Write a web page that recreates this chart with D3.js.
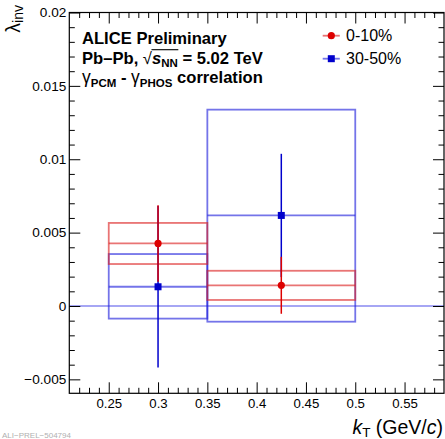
<!DOCTYPE html>
<html><head><meta charset="utf-8">
<script src="https://cdn.jsdelivr.net/npm/d3@7"></script>
<style>body{margin:0;background:#fff} svg{display:block} text{font-family:"Liberation Sans",Arial,Helvetica,sans-serif}</style>
</head><body><svg id="c" width="445" height="439"></svg>
<script>
// ---- data ----
const centralities = ["0-10%", "30-50%"];
const kT = [0.3, 0.425];
const binLow = [0.25, 0.35];
const binHigh = [0.35, 0.5];
const lambda010 = [0.00426, 0.00141];
const stat010 = [0.0026, 0.00194];
const sysLow010 = [0.00286, 0.00041];
const sysHigh010 = [0.00566, 0.0024];
const lambda3050 = [0.00131, 0.00617];
const stat3050 = [0.0055, 0.0042];
const sysLow3050 = [-0.00086, -0.00107];
const sysHigh3050 = [0.00354, 0.01338];
const xTicks = [0.25, 0.3, 0.35, 0.4, 0.45, 0.5, 0.55];
const xTickLabels = ["0.25", "0.3", "0.35", "0.4", "0.45", "0.5", "0.55"];
const yTicks = [-0.005, 0, 0.005, 0.01, 0.015, 0.02];
const yTickLabels = ["\u22120.005", "0", "0.005", "0.01", "0.015", "0.02"];

// ---- layout ----
const L = 69.3, R = 444, T = 12.5, B = 393.3;
const x = d3.scaleLinear().domain([0.21, 0.59]).range([L, R]);
const y = d3.scaleLinear().domain([-0.00595, 0.02]).range([B, T]);
const svg = d3.select("#c");

const RED = "#dd0000", BLUE = "#0000cc";
const REDBOX = "rgba(220,30,30,0.62)", BLUEBOX = "rgba(30,30,220,0.62)";

// zero line
svg.append("line").attr("x1", x(0.21)).attr("x2", x(0.59)).attr("y1", y(0)).attr("y2", y(0))
  .attr("stroke", "rgba(40,40,230,0.55)").attr("stroke-width", 1.6);

const series = [
  {name: centralities[1], v: lambda3050, s: stat3050, lo: sysLow3050, hi: sysHigh3050, c: BLUE, box: BLUEBOX, sym: "square"},
  {name: centralities[0], v: lambda010, s: stat010, lo: sysLow010, hi: sysHigh010, c: RED, box: REDBOX, sym: "circle"}
];

// systematic boxes
series.forEach(S => {
  kT.forEach((k, i) => {
    svg.append("rect").attr("x", x(binLow[i])).attr("width", x(binHigh[i]) - x(binLow[i]))
      .attr("y", y(S.hi[i])).attr("height", y(S.lo[i]) - y(S.hi[i]))
      .attr("fill", "none").attr("stroke", S.box).attr("stroke-width", 1.8);
    svg.append("line").attr("x1", x(binLow[i])).attr("x2", x(binHigh[i]))
      .attr("y1", y(S.v[i])).attr("y2", y(S.v[i]))
      .attr("stroke", S.box).attr("stroke-width", 1.8);
  });
});
// stat errors
series.forEach(S => {
  kT.forEach((k, i) => {
    svg.append("line").attr("x1", x(k)).attr("x2", x(k))
      .attr("y1", y(S.v[i] - S.s[i])).attr("y2", y(S.v[i] + S.s[i]))
      .attr("stroke", S.c).attr("stroke-width", 1.5);
  });
});
// markers
function marker(g, sym, cx, cy, c) {
  if (sym === "circle") g.append("circle").attr("cx", cx).attr("cy", cy).attr("r", 3.6).attr("fill", c);
  else g.append("rect").attr("x", cx - 3.5).attr("y", cy - 3.5).attr("width", 7).attr("height", 7).attr("fill", c);
}
series.forEach(S => kT.forEach((k, i) => marker(svg, S.sym, x(k), y(S.v[i]), S.c)));

// ---- axes ----
const fmtX = d => xTickLabels[xTicks.indexOf(d)];
const fmtY = d => yTickLabels[yTicks.indexOf(d)];
const xMinor = d3.range(22, 59).map(v => v / 100).filter(v => Math.abs(v * 20 - Math.round(v * 20)) > 1e-6);
const yMinor = d3.range(-5, 21).map(v => v / 1000).filter(v => Math.abs(v * 200 - Math.round(v * 200)) > 1e-6);

function styleAxis(g) { g.select(".domain").remove(); g.selectAll("line").attr("stroke", "#000"); }

svg.append("g").attr("transform", `translate(0,${B})`)
  .call(d3.axisBottom(x).tickValues(xTicks).tickFormat(fmtX).tickSize(-11).tickPadding(5.5))
  .call(styleAxis).selectAll("text").attr("font-size", 13.2).attr("fill", "#000")
  .style("font-family", '"Liberation Sans",Arial,sans-serif');
svg.append("g").attr("transform", `translate(0,${B})`)
  .call(d3.axisBottom(x).tickValues(xMinor).tickFormat("").tickSize(-5.5)).call(styleAxis);
svg.append("g").attr("transform", `translate(0,${T})`)
  .call(d3.axisTop(x).tickValues(xTicks).tickFormat("").tickSize(-11)).call(styleAxis);
svg.append("g").attr("transform", `translate(0,${T})`)
  .call(d3.axisTop(x).tickValues(xMinor).tickFormat("").tickSize(-5.5)).call(styleAxis);

svg.append("g").attr("transform", `translate(${L},0)`)
  .call(d3.axisLeft(y).tickValues(yTicks).tickFormat(fmtY).tickSize(-11).tickPadding(3))
  .call(styleAxis).selectAll("text").attr("font-size", 13.6).attr("fill", "#000")
  .style("font-family", '"Liberation Sans",Arial,sans-serif');
svg.append("g").attr("transform", `translate(${L},0)`)
  .call(d3.axisLeft(y).tickValues(yMinor).tickFormat("").tickSize(-5.5)).call(styleAxis);
svg.append("g").attr("transform", `translate(${R},0)`)
  .call(d3.axisRight(y).tickValues(yTicks).tickFormat("").tickSize(-11)).call(styleAxis);
svg.append("g").attr("transform", `translate(${R},0)`)
  .call(d3.axisRight(y).tickValues(yMinor).tickFormat("").tickSize(-5.5)).call(styleAxis);

// frame
svg.append("rect").attr("x", L).attr("y", T).attr("width", R - L).attr("height", B - T)
  .attr("fill", "none").attr("stroke", "#000").attr("stroke-width", 1.2);

// ---- axis titles ----
const xt = svg.append("text").attr("x", 443).attr("y", 434).attr("text-anchor", "end").attr("font-size", 19.5);
xt.append("tspan").attr("font-style", "italic").text("k");
xt.append("tspan").attr("font-size", 13.5).attr("dy", 3).text("T");
xt.append("tspan").attr("dy", -3).text(" (GeV/");
xt.append("tspan").attr("font-style", "italic").text("c");
xt.append("tspan").text(")");

const yt = svg.append("text").attr("transform", "translate(19.5,5) rotate(-90)").attr("text-anchor", "end").attr("font-size", 19.5);
yt.append("tspan").text("\u03bb");
yt.append("tspan").attr("font-size", 14).attr("dy", 3.5).text("inv");

// ---- info text ----
const tx = 82, FS = 16.6, SFS = 11.5;
svg.append("text").attr("x", tx).attr("y", 44).attr("font-size", FS).attr("font-weight", "bold").text("ALICE Preliminary");
const t2 = svg.append("text").attr("x", tx).attr("y", 63.5).attr("font-size", FS).attr("font-weight", "bold");
t2.append("tspan").text("Pb\u2013Pb, ");
t2.append("tspan").attr("font-weight", "normal").text("\u221a");
t2.append("tspan").attr("font-style", "italic").text("s");
t2.append("tspan").attr("font-size", SFS).attr("dy", 3.5).text("NN");
t2.append("tspan").attr("dy", -3.5).text(" = 5.02 TeV");
{
  const n = t2.node();
  const a = n.getExtentOfChar(7), c = n.getExtentOfChar(10);
  svg.append("line").attr("x1", a.x + a.width - 0.5).attr("x2", c.x + c.width + 0.5)
    .attr("y1", a.y + 1.2).attr("y2", a.y + 1.2).attr("stroke", "#000").attr("stroke-width", 1.1);
}
const t3 = svg.append("text").attr("x", tx).attr("y", 83).attr("font-size", FS).attr("font-weight", "bold");
t3.append("tspan").attr("font-weight", "normal").attr("font-size", 17.5).text("\u03b3");
t3.append("tspan").attr("font-size", SFS).attr("dy", 3.5).text("PCM");
t3.append("tspan").attr("dy", -3.5).text(" - ");
t3.append("tspan").attr("font-weight", "normal").attr("font-size", 17.5).text("\u03b3");
t3.append("tspan").attr("font-size", SFS).attr("dy", 3.5).text("PHOS");
t3.append("tspan").attr("dy", -3.5).text(" correlation");

// ---- legend ----
const legY = [35.7, 58.7];
[series[1], series[0]].forEach((S, i) => {
  svg.append("line").attr("x1", 322.7).attr("x2", 339.8).attr("y1", legY[i]).attr("y2", legY[i])
    .attr("stroke", S.box).attr("stroke-width", 1.8);
  marker(svg, S.sym, 331.3, legY[i], S.c);
  svg.append("text").attr("x", 346).attr("y", legY[i] + 5.6).attr("font-size", 16).text(S.name);
});

// watermark
svg.append("text").attr("x", 2).attr("y", 437.5).attr("font-size", 8).attr("fill", "#b0b0b0").text("ALI\u2212PREL\u2212504794");
</script></body></html>
